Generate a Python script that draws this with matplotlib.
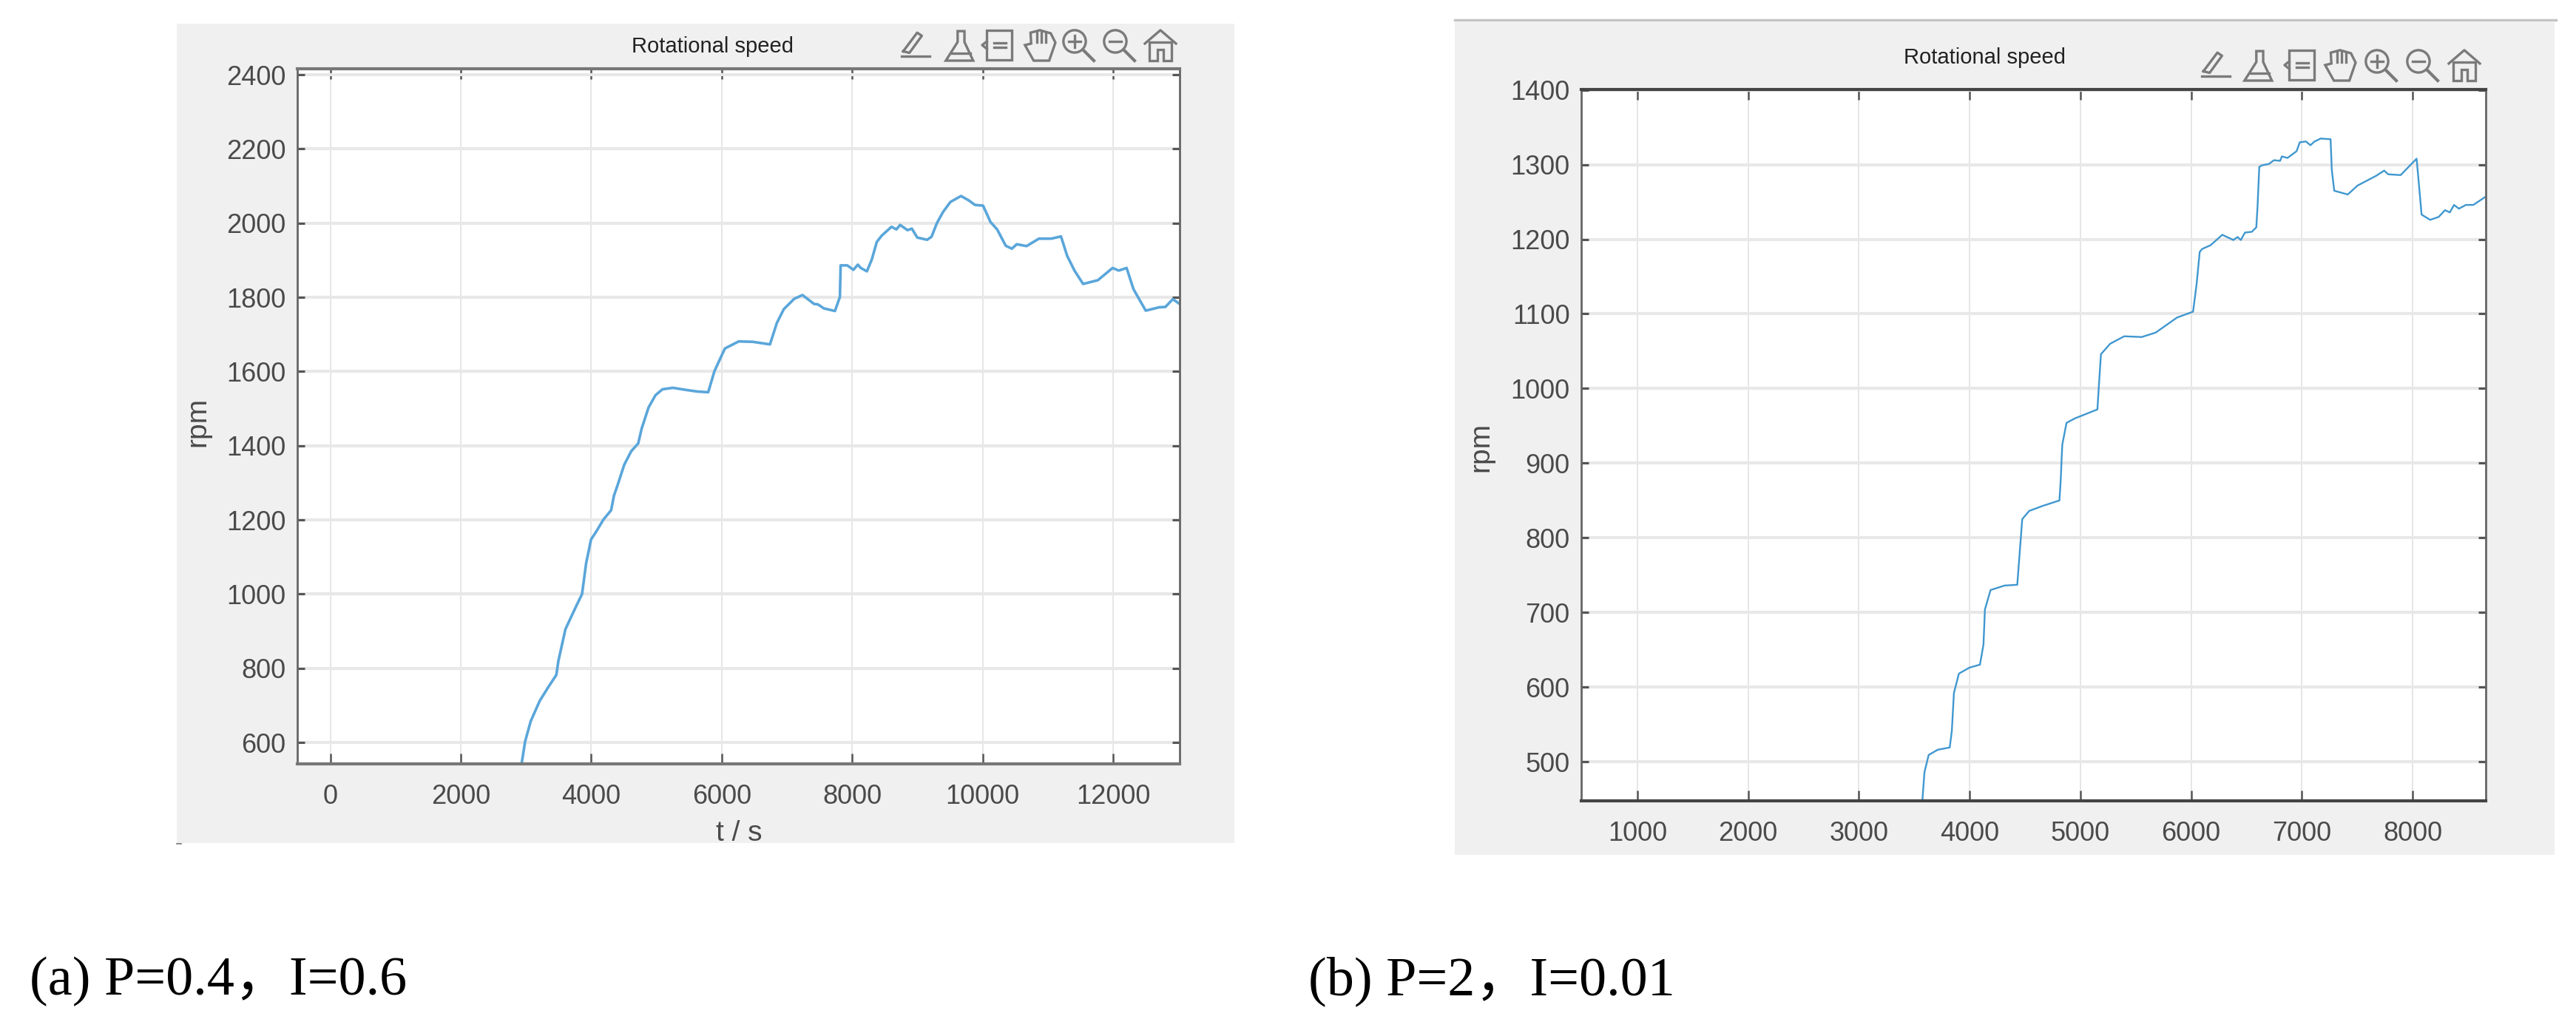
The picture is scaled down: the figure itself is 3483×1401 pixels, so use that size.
import matplotlib
matplotlib.use('Agg')
import matplotlib.pyplot as plt
from matplotlib.patches import Rectangle, Circle, Polygon

W, H = 3483, 1401

# left chart, P=0.4 I=0.6
t_a = [2934, 2987, 3072, 3210, 3338, 3465, 3497, 3604, 3763, 3859, 3922, 3997, 4082, 4188, 4305, 4348,
       4401, 4507, 4613, 4720, 4773, 4879, 4985, 5092, 5251, 5464, 5623, 5793, 5889, 6049, 6261, 6474,
       6740, 6846, 6952, 7112, 7239, 7416, 7473, 7567, 7736, 7812, 7823, 7925, 8019, 8087, 8132, 8226,
       8301, 8377, 8452, 8603, 8678, 8735, 8848, 8915, 8998, 9149, 9216, 9299, 9393, 9506, 9668, 9789,
       9883, 10007, 10120, 10222, 10354, 10448, 10523, 10674, 10862, 11051, 11201, 11295, 11408, 11540,
       11766, 11992, 12086, 12207, 12312, 12500, 12707, 12802, 12915, 13028]
rpm_a = [544, 603, 657, 712, 748, 782, 820, 905, 965, 1000, 1083, 1147, 1170, 1201, 1226, 1265,
         1292, 1349, 1385, 1406, 1446, 1503, 1536, 1552, 1556, 1550, 1546, 1544, 1601, 1662, 1681, 1680,
         1673, 1731, 1768, 1796, 1806, 1782, 1781, 1770, 1763, 1801, 1886, 1886, 1874, 1888, 1879, 1870,
         1902, 1949, 1966, 1990, 1983, 1995, 1981, 1985, 1961, 1955, 1963, 2000, 2030, 2057, 2073, 2061,
         2049, 2047, 2003, 1983, 1939, 1931, 1943, 1938, 1958, 1958, 1964, 1912, 1872, 1836,
         1846, 1879, 1872, 1879, 1822, 1764, 1773, 1774, 1795, 1781]

# right chart, P=2 I=0.01
t_b = [3573, 3592, 3630, 3712, 3820, 3839, 3858, 3903, 3998, 4093, 4125, 4138, 4189, 4316, 4430, 4449,
       4475, 4538, 4665, 4811, 4824, 4830, 4837, 4875, 4951, 5154, 5167, 5186, 5269, 5396, 5554, 5681,
       5872, 6018, 6050, 6078, 6100, 6176, 6282, 6382, 6420, 6449, 6487, 6549, 6589, 6600, 6616, 6638,
       6704, 6749, 6804, 6820, 6871, 6953, 6982, 7038, 7078, 7115, 7171, 7260, 7271, 7293, 7415, 7504,
       7671, 7744, 7782, 7893, 8037, 8060, 8082, 8160, 8237, 8293, 8337, 8375, 8419, 8482, 8549, 8660]
rpm_b = [448, 486, 509, 516, 519, 541, 592, 618, 626, 630, 657, 704, 730, 736, 737, 774,
         825, 836, 843, 850, 881, 904, 925, 954, 960, 972, 1003, 1046, 1060, 1070, 1069, 1075,
         1095, 1103, 1140, 1183, 1187, 1192, 1206, 1199, 1203, 1199, 1209, 1210, 1216, 1243, 1297, 1299,
         1301, 1306, 1305, 1311, 1309, 1318, 1330, 1331, 1326, 1331, 1335, 1334, 1293, 1265, 1260, 1272,
         1285, 1292, 1287, 1286, 1308, 1270, 1233, 1226, 1230, 1239, 1236, 1246, 1241, 1246, 1246, 1257]

xticks_a = [0, 2000, 4000, 6000, 8000, 10000, 12000]
yticks_a = [600, 800, 1000, 1200, 1400, 1600, 1800, 2000, 2200, 2400]
xticks_b = [1000, 2000, 3000, 4000, 5000, 6000, 7000, 8000]
yticks_b = [500, 600, 700, 800, 900, 1000, 1100, 1200, 1300, 1400]

title = 'Rotational speed'
caption_a = '(a) P=0.4，I=0.6'
caption_b = '(b) P=2，I=0.01'

plt.rcParams['font.family'] = ['Liberation Sans', 'DejaVu Sans']

fig = plt.figure(figsize=(W / 100, H / 100), dpi=100, facecolor='white')

# full figure layer in pixel coords, for the grey panels, captions and toolbar
bg = fig.add_axes([0, 0, 1, 1], zorder=0)
bg.set_xlim(0, W)
bg.set_ylim(H, 0)
bg.axis('off')


def px_axes(left, top, right, bottom):
    return fig.add_axes([left / W, 1 - bottom / H, (right - left) / W, (bottom - top) / H], zorder=2)


def draw_chart(ax, t, rpm, xlim, ylim, xticks, yticks, color, lw, hgrid, spine):
    ax.plot(t, rpm, color=color, lw=lw, solid_joinstyle='round')
    ax.set_xlim(xlim)
    ax.set_ylim(ylim)
    ax.set_xticks(xticks)
    ax.set_yticks(yticks)
    ax.grid(True, axis='y', color='#e8e8e8', lw=hgrid)
    ax.grid(True, axis='x', color='#e4e4e4', lw=1.3)
    ax.set_axisbelow(True)
    ax.tick_params(axis='x', direction='in', length=10, width=1.8, color='#555555', top=True,
                   labelsize=26, labelcolor='#4a4a4a', pad=20)
    ax.tick_params(axis='y', direction='in', length=7, width=2.2, color='#555555', right=True,
                   labelsize=26, labelcolor='#4a4a4a', pad=11)
    for side in ['left', 'right']:
        ax.spines[side].set_color('#666666')
        ax.spines[side].set_linewidth(2)
    for side in ['top', 'bottom']:
        ax.spines[side].set_color(spine)
        ax.spines[side].set_linewidth(3)


# icon shapes are drawn in a 0-1 box
def icon_pen(x, y, s, c, lw):
    bg.plot([x + .05 * s, x + .95 * s], [y + .85 * s, y + .85 * s], color=c, lw=lw)
    bg.plot([x + .1 * s, x + .55 * s, x + .7 * s, x + .3 * s, x + .1 * s],
            [y + .7 * s, y + .1 * s, y + .2 * s, y + .75 * s, y + .7 * s], color=c, lw=lw)


def icon_brush(x, y, s, c, lw):
    bg.add_patch(Polygon([(x + .4 * s, y + .05 * s), (x + .62 * s, y + .05 * s), (x + .62 * s, y + .4 * s),
                          (x + .9 * s, y + s), (x + .02 * s, y + s), (x + .4 * s, y + .4 * s)],
                         fill=False, ec=c, lw=lw))
    bg.plot([x + .18 * s, x + .82 * s], [y + .75 * s, y + .75 * s], color=c, lw=lw)


def icon_list(x, y, s, c, lw):
    bg.add_patch(Rectangle((x + .15 * s, y + .02 * s), .8 * s, .96 * s, fill=False, ec=c, lw=lw))
    bg.plot([x + .15 * s, x, x + .15 * s], [y + .38 * s, y + .5 * s, y + .62 * s], color=c, lw=lw)
    for k in [.42, .58]:
        bg.plot([x + .38 * s, x + .75 * s], [y + k * s, y + k * s], color=c, lw=lw)


def icon_hand(x, y, s, c, lw):
    bg.add_patch(Polygon([(x + .02 * s, y + .5 * s), (x + .22 * s, y + .45 * s), (x + .2 * s, y + .1 * s),
                          (x + .5 * s, y + .02 * s), (x + .85 * s, y + .12 * s), (x + s, y + .42 * s),
                          (x + .8 * s, y + s), (x + .3 * s, y + s)], fill=False, ec=c, lw=lw))
    for k in [.4, .55, .7]:
        bg.plot([x + k * s, x + k * s], [y + .1 * s, y + .4 * s], color=c, lw=lw)


def icon_zoom(x, y, s, c, lw, plus):
    bg.add_patch(Circle((x + .38 * s, y + .38 * s), .36 * s, fill=False, ec=c, lw=lw))
    bg.plot([x + .65 * s, x + s], [y + .65 * s, y + s], color=c, lw=lw + .6)
    bg.plot([x + .2 * s, x + .56 * s], [y + .38 * s, y + .38 * s], color=c, lw=lw)
    if plus:
        bg.plot([x + .38 * s, x + .38 * s], [y + .2 * s, y + .56 * s], color=c, lw=lw)


def icon_home(x, y, s, c, lw):
    bg.plot([x, x + .5 * s, x + s], [y + .45 * s, y + .02 * s, y + .45 * s], color=c, lw=lw)
    bg.add_patch(Polygon([(x + .15 * s, y + .4 * s), (x + .15 * s, y + s), (x + .4 * s, y + s),
                          (x + .4 * s, y + .65 * s), (x + .6 * s, y + .65 * s), (x + .6 * s, y + s),
                          (x + .85 * s, y + s), (x + .85 * s, y + .4 * s)], fill=False, ec=c, lw=lw))


def toolbar(xs, y):
    c = '#7a7a7a'
    lw = 2.4
    s = 42
    icon_pen(xs[0], y, s, c, lw)
    icon_brush(xs[1], y, s, c, lw)
    icon_list(xs[2], y, s, c, lw)
    icon_hand(xs[3], y, s, c, lw)
    icon_zoom(xs[4], y, s, c, lw, True)
    icon_zoom(xs[5], y, s, c, lw, False)
    icon_home(xs[6], y, s, c, lw)


# grey panels behind each chart
bg.add_patch(Rectangle((239, 32), 1430, 1108, fc='#f0f0f0', ec='none'))
bg.add_patch(Rectangle((1967, 30), 1487, 1126, fc='#f0f0f0', ec='none'))
bg.plot([1967, 3456], [27, 27], color='#c4c4c4', lw=2.5)
bg.plot([239, 245], [1141, 1141], color='#777777', lw=1.2)

# left chart
ax1 = px_axes(401.6, 93.5, 1595, 1032.6)
draw_chart(ax1, t_a, rpm_a, (-510, 13020), (543, 2415), xticks_a, yticks_a, '#5aa6da', 2.6, 3, '#777777')
bg.text(963, 63, title, fontsize=21, color='#222222', ha='center', va='center')
bg.text(267, 570, 'rpm', fontsize=28, color='#4a4a4a', rotation=90, ha='center', va='center')
bg.text(999, 1127, 't / s', fontsize=28, color='#4a4a4a', ha='center', va='center')
toolbar([1217, 1278, 1328, 1385, 1437, 1492, 1548], 40)

# right chart
ax2 = px_axes(2138, 120.7, 3360.6, 1082.5)
draw_chart(ax2, t_b, rpm_b, (492, 8659), (448, 1401), xticks_b, yticks_b, '#3f97cf', 1.7, 3, '#444444')
bg.text(2683, 78, title, fontsize=21, color='#222222', ha='center', va='center')
bg.text(2002, 604, 'rpm', fontsize=28, color='#4a4a4a', rotation=90, ha='center', va='center')
toolbar([2975, 3034, 3089, 3143, 3198, 3254, 3311], 67)

# captions
cap_font = ['Liberation Serif', 'Noto Sans CJK SC']
bg.text(40, 1345, caption_a, fontsize=53.4, color='black', family=cap_font, ha='left', va='baseline')
bg.text(1769, 1345, caption_b, fontsize=53.4, color='black', family=cap_font, ha='left', va='baseline')

fig.savefig('out.png', dpi=100, facecolor='white')
